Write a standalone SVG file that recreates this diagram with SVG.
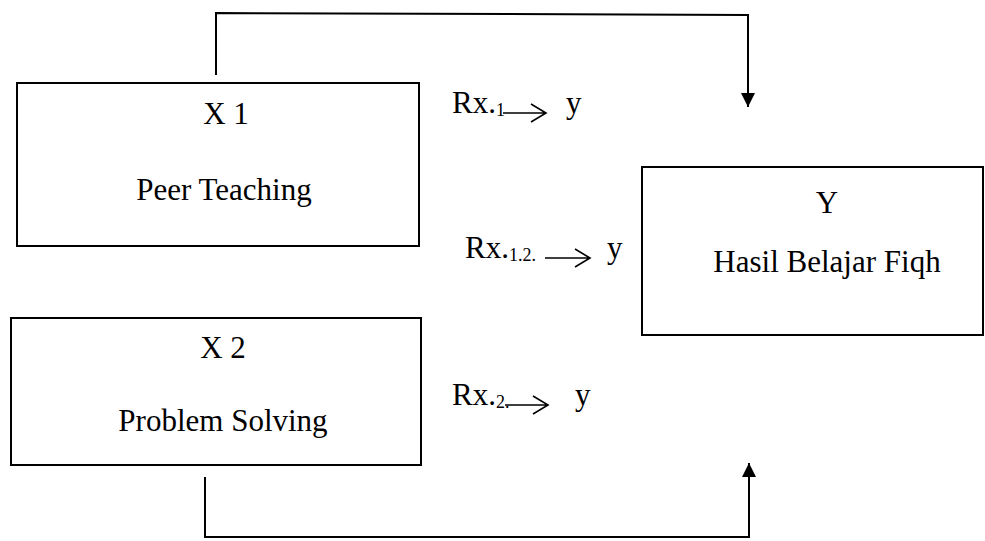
<svg xmlns="http://www.w3.org/2000/svg" width="985" height="541" viewBox="0 0 985 541">
<defs>
<style>
.box{fill:#fff;stroke:#000;stroke-width:2}
.t{font-family:"Liberation Serif","Times New Roman",serif;font-size:31px;fill:#000;text-anchor:middle}
.r{font-family:"Liberation Serif","Times New Roman",serif;font-size:31px;fill:#000}
.sub{font-size:18px}
.c{fill:none;stroke:#000;stroke-width:2}
.a{fill:none;stroke:#000;stroke-width:1.6}
</style>
<marker id="ah" markerWidth="14" markerHeight="16" refX="14" refY="8" orient="auto" markerUnits="userSpaceOnUse">
<path d="M0,1 L14,8 L0,15 Z" fill="#000"/>
</marker>
</defs>
<rect width="985" height="541" fill="#fff"/>
<g id="connectors">
<path class="c" d="M216,75 L216,13 L748,15 L748,107" marker-end="url(#ah)"/>
<path class="c" d="M205,477 L205,537 L749,537 L749,463" marker-end="url(#ah)"/>
<g id="rx1">
<text class="r" x="452" y="113">Rx.<tspan class="sub" dy="3">1</tspan></text>
<path class="a" d="M503,113 L546,113 M531,104 L546,113 L531,122"/>
<text class="r" x="566" y="113">y</text>
</g>
<g id="rx12">
<text class="r" x="465" y="258">Rx.<tspan class="sub" dy="3">1.2.</tspan></text>
<path class="a" d="M545,258 L590,258 M575,249 L590,258 L575,267"/>
<text class="r" x="607" y="258">y</text>
</g>
<g id="rx2">
<text class="r" x="452" y="405">Rx.<tspan class="sub" dy="3">2.</tspan></text>
<path class="a" d="M505,405 L548,405 M533,396 L548,405 L533,414"/>
<text class="r" x="575" y="405">y</text>
</g>
</g>
<g id="x1">
<rect class="box" x="17" y="83" width="402" height="163"/>
<text class="t" x="226" y="124">X 1</text>
<text class="t" x="224" y="200">Peer Teaching</text>
</g>
<g id="x2">
<rect class="box" x="11" y="318" width="410" height="147"/>
<text class="t" x="223" y="358">X 2</text>
<text class="t" x="223" y="431">Problem Solving</text>
</g>
<g id="y">
<rect class="box" x="642" y="167" width="341" height="168"/>
<text class="t" x="827" y="213">Y</text>
<text class="t" x="827" y="272">Hasil Belajar Fiqh</text>
</g>
</svg>
